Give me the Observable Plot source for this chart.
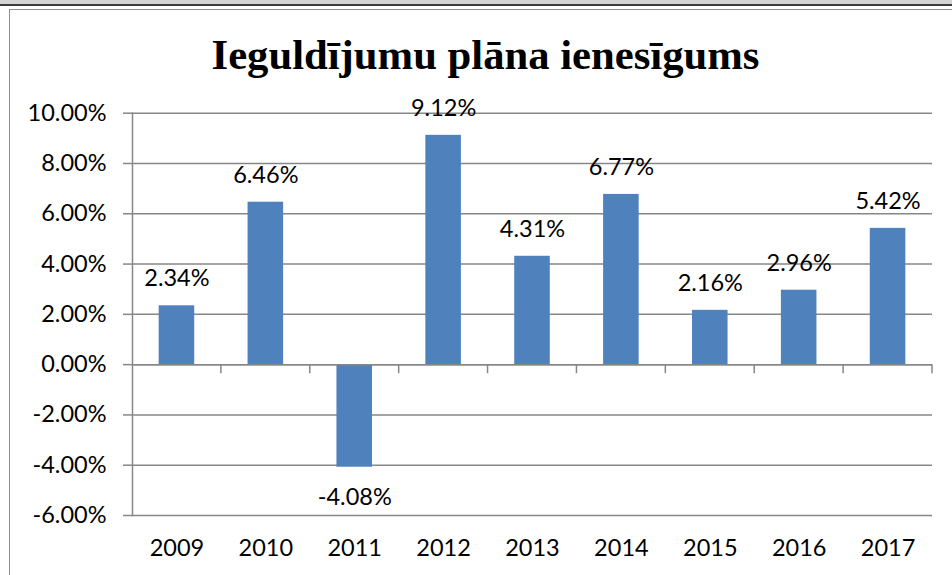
<!DOCTYPE html>
<html>
<head>
<meta charset="utf-8">
<script src="https://cdn.jsdelivr.net/npm/d3@7"></script>
<script src="https://cdn.jsdelivr.net/npm/@observablehq/plot@0.6"></script>
<style>
  html, body { margin: 0; padding: 0; background: #fff; }
  #wrap { position: relative; width: 952px; height: 575px; overflow: hidden; background: #fff; }
  #band { position: absolute; left: 0; top: 0; width: 952px; height: 4px; background: #d4d4d4; }
  #dark { position: absolute; left: 0; top: 4px; width: 952px; height: 2px; background: #3c3c3c; }
  #box { position: absolute; left: 9px; top: 9px; width: 960px; height: 600px; border-left: 1.5px solid #8e8e8e; border-top: 1.5px solid #8e8e8e; }
  #title { position: absolute; top: 34px; left: 485.5px; transform: translateX(-50%); white-space: nowrap;
    font-family: "Liberation Serif", "Times New Roman", serif; font-weight: bold; font-size: 42.7px; line-height: 42px; color: #000; }
  #chart { position: absolute; left: 0; top: 92px; }
</style>
</head>
<body>
<div id="wrap">
  <div id="band"></div>
  <div id="dark"></div>
  <div id="box"></div>
  <div id="title">Ieguldījumu plāna ienesīgums</div>
  <div id="chart"></div>
</div>
<script>
const years = ["2009", "2010", "2011", "2012", "2013", "2014", "2015", "2016", "2017"];
const returns = [2.34, 6.46, -4.08, 9.12, 4.31, 6.77, 2.16, 2.96, 5.42];
const yTicks = [-6, -4, -2, 0, 2, 4, 6, 8, 10];

const data = years.map((y, i) => ({year: y, value: returns[i]}));
const fmt = v => v.toFixed(2) + "%";
const font = "Lato, 'Open Sans', sans-serif";
const fs = 23.5;
const gridColor = "#878787";

// Boundary tick marks under the zero line (category separators, Excel style)
function boundaryTicks(index, scales, values, dims) {
  const x = scales.scales.x;
  const step = x.step ?? (x.bandwidth / (1 - 0.6));
  const y0 = scales.y(0);
  const g = d3.create("svg:g");
  for (let i = 1; i <= years.length; i++) {
    const bx = dims.marginLeft + i * step;
    g.append("line")
      .attr("x1", bx).attr("x2", bx)
      .attr("y1", y0).attr("y2", y0 + 9)
      .attr("stroke", gridColor).attr("stroke-width", 1.5);
  }
  return g.node();
}

const chart = Plot.plot({
  width: 952,
  height: 483,
  marginLeft: 132,
  marginRight: 20,
  marginTop: 20.7,
  marginBottom: 60,
  style: {fontFamily: font, fontSize: fs + "px", color: "#000", background: "transparent"},
  x: {domain: years, paddingInner: 0.6, paddingOuter: 0.3, round: false, label: null},
  y: {domain: [-6, 10], label: null},
  marks: [
    Plot.gridY(yTicks, {stroke: gridColor, strokeOpacity: 1, strokeWidth: 1.5}),
    Plot.axisY(yTicks, {tickSize: 9, tickPadding: 17, stroke: gridColor, strokeWidth: 1.5, tickFormat: fmt, fontSize: fs, label: null}),
    Plot.frame({anchor: "left", stroke: gridColor, strokeWidth: 1.5}),
    Plot.barY(data, {x: "year", y: "value", fill: "#4F81BD"}),
    Plot.ruleY([0], {stroke: gridColor, strokeWidth: 1.5}),
    Plot.axisX({tickSize: 0, tickPadding: 24, fontSize: fs, label: null}),
    Plot.text(data.filter(d => d.value >= 0), {x: "year", y: "value", text: d => fmt(d.value), dy: -27, fontSize: fs, fill: "#000"}),
    Plot.text(data.filter(d => d.value < 0), {x: "year", y: "value", text: d => fmt(d.value), dy: 30, fontSize: fs, fill: "#000"}),
    boundaryTicks
  ]
});
document.getElementById("chart").appendChild(chart);
</script>
</body>
</html>
